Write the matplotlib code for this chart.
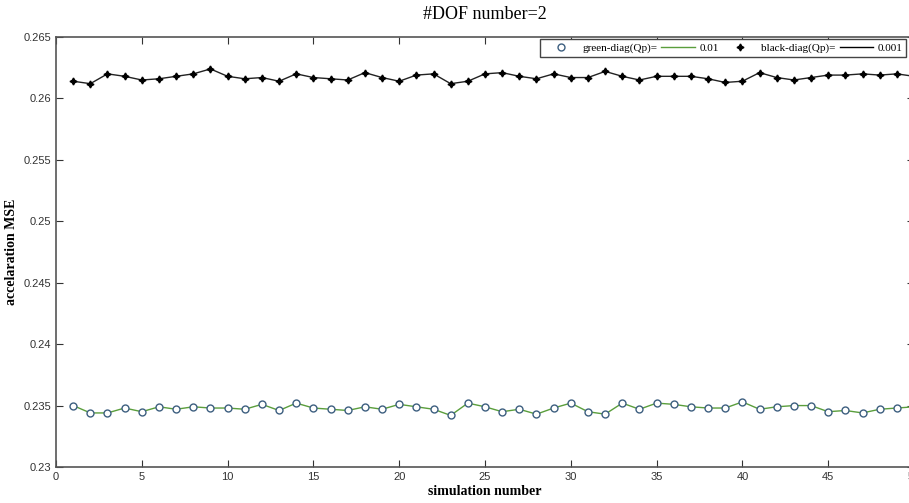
import numpy as np
import matplotlib
matplotlib.use("Agg")
import matplotlib.pyplot as plt
from matplotlib.ticker import FuncFormatter
from matplotlib.lines import Line2D

# MSE per run, two settings of diag(Qp)
sim = np.arange(1, 51)
mse_green = [0.2350, 0.2344, 0.2344, 0.2348, 0.2345, 0.2349, 0.2347, 0.2349, 0.2348, 0.2348,
             0.2347, 0.2351, 0.2346, 0.2352, 0.2348, 0.2347, 0.2346, 0.2349, 0.2347, 0.2351,
             0.2349, 0.2347, 0.2342, 0.2352, 0.2349, 0.2345, 0.2347, 0.2343, 0.2348, 0.2352,
             0.2345, 0.2343, 0.2352, 0.2347, 0.2352, 0.2351, 0.2349, 0.2348, 0.2348, 0.2353,
             0.2347, 0.2349, 0.2350, 0.2350, 0.2345, 0.2346, 0.2344, 0.2347, 0.2348, 0.2349]
mse_black = [0.2614, 0.2612, 0.2620, 0.2618, 0.2615, 0.2616, 0.2618, 0.2620, 0.2624, 0.2618,
             0.2616, 0.2617, 0.2614, 0.2620, 0.2617, 0.2616, 0.2615, 0.2621, 0.2617, 0.2614,
             0.2619, 0.2620, 0.2612, 0.2614, 0.2620, 0.2621, 0.2618, 0.2616, 0.2620, 0.2617,
             0.2617, 0.2622, 0.2618, 0.2615, 0.2618, 0.2618, 0.2618, 0.2616, 0.2613, 0.2614,
             0.2621, 0.2617, 0.2615, 0.2617, 0.2619, 0.2619, 0.2620, 0.2619, 0.2620, 0.2618]

green = "#5a9e3c"
circ_edge = "#3d5f80"
star = (4, 1, 0)

fig = plt.figure(figsize=(9.09, 5.03), dpi=100)
ax = fig.add_axes([56 / 909, 36 / 503, 858 / 909, 430 / 503])

ax.plot(sim, mse_green, color=green, lw=1.0, zorder=2)
ax.plot(sim, mse_green, ls="none", marker="o", ms=5, mfc="white", mec=circ_edge, mew=1.0, zorder=3)
ax.plot(sim, mse_black, color="#222222", lw=1.0, zorder=2)
ax.plot(sim, mse_black, ls="none", marker=star, ms=5, color="black", zorder=3)

ax.set_xlim(0, 50)
ax.set_ylim(0.23, 0.265)
ax.set_xticks(np.arange(0, 51, 5))
ax.set_yticks(np.arange(0.23, 0.2651, 0.005))
ax.yaxis.set_major_formatter(FuncFormatter(lambda v, p: "%g" % round(v, 4)))
ax.tick_params(direction="in", top=True, right=True, length=5, width=0.8,
               labelsize=8, colors="#333333")
for lab in ax.get_xticklabels() + ax.get_yticklabels():
    lab.set_fontfamily("Liberation Sans")
for s in ax.spines.values():
    s.set_color("#555555")
    s.set_linewidth(1.2)

ax.set_title("#DOF number=2", fontfamily="Liberation Serif", fontsize=13, pad=13)
ax.set_xlabel("simulation number", fontfamily="Liberation Serif", fontweight="bold", fontsize=10, labelpad=2)
ax.set_ylabel("accelaration MSE", fontfamily="Liberation Serif", fontweight="bold", fontsize=10, labelpad=4)

h = [Line2D([], [], ls="none", marker="o", ms=5, mfc="white", mec=circ_edge),
     Line2D([], [], color=green, lw=1.0),
     Line2D([], [], ls="none", marker=star, ms=5, color="black"),
     Line2D([], [], color="black", lw=1.0)]
labels = ["green-diag(Qp)=", "0.01", "black-diag(Qp)=", "0.001"]
leg = ax.legend(h, labels, ncol=4, loc="upper right", bbox_to_anchor=(0.9935, 1.0),
                prop={"family": "Liberation Serif", "size": 8}, fancybox=False,
                framealpha=1, edgecolor="#444444", handlelength=3.0, columnspacing=0.4,
                borderpad=0.35, handletextpad=0.4, borderaxespad=0.2)
leg.get_frame().set_linewidth(1.0)

fig.savefig("out.png", dpi=100)
